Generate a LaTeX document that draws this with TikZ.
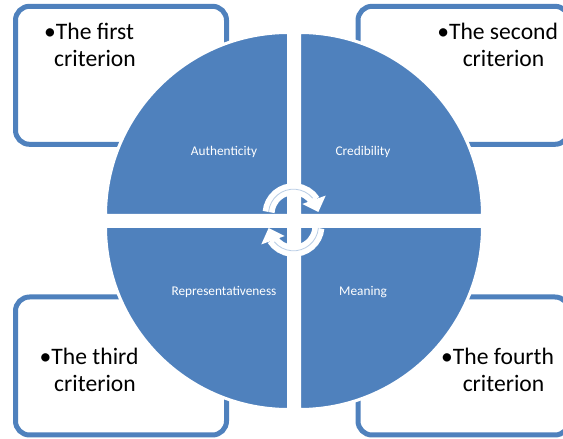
\documentclass[tikz,border=0pt]{standalone}
\usepackage{fontspec}
\setmainfont{Carlito}
\usepackage{tikz}
\usetikzlibrary{arrows.meta, bending}

\begin{document}
\begin{tikzpicture}[
        x=1pt, y=1pt,
        box node/.style={draw=boxblue, line width=5pt, rounded corners=14pt, fill=white, minimum width=211pt, minimum height=138pt, inner sep=0pt},
        crit node/.style={align=center, font=\fontsize{23.6}{26.5}\selectfont, text=black, inner sep=0pt},
        label node/.style={text=white, font=\fontsize{13.3}{16}\selectfont, inner sep=0pt},
        quad/.style={draw=white, line width=3pt, fill=boxblue},
        turn/.style={draw=white, line width=12pt, -{Triangle[width=24pt,length=13pt]}},
        turn line/.style={draw=turnblue, line width=.8pt},
    ]
    \definecolor{boxblue}{HTML}{4F81BD}
    \definecolor{turnblue}{HTML}{B9CDE5}

    \clip (0,0) rectangle (563,439);

    \node[box node] (boxA) at (121,363.7) {};
    \node[box node] (boxB) at (463.5,363.7) {};
    \node[box node] (boxC) at (121,73) {};
    \node[box node] (boxD) at (463.5,73) {};

    \draw[quad] (288.5,223.5) -- ++(-183pt,0) arc[start angle=180, end angle=90, radius=183pt] -- cycle;
    \draw[quad] (299.5,223.5) -- ++(0,183pt) arc[start angle=90, end angle=0, radius=183pt] -- cycle;
    \draw[quad] (288.5,212.5) -- ++(0,-183pt) arc[start angle=270, end angle=180, radius=183pt] -- cycle;
    \draw[quad] (299.5,212.5) -- ++(183pt,0) arc[start angle=0, end angle=-90, radius=183pt] -- cycle;

    \node[crit node] (critA) at (95,394) {\llap{•}The first\\criterion};
    \node[crit node] (critB) at (503.5,394) {\llap{•}The second\\criterion};
    \node[crit node] (critC) at (95,69) {\llap{•}The third\\criterion};
    \node[crit node] (critD) at (503.5,69) {\llap{•}The fourth\\criterion};

    \node[label node] (authentic) at (224,287) {Authenticity};
    \node[label node] (credible) at (363,287) {Credibility};
    \node[label node] (represent) at (224,147) {Representativeness};
    \node[label node] (meaning) at (363,147) {Meaning};

    \coordinate (topstart) at (268.6,227);
    \coordinate (botstart) at (318.4,211);

    \draw[turn] (topstart) arc[start angle=175, end angle=5, radius=25pt];
    \draw[turn] (botstart) arc[start angle=-5, end angle=-175, radius=25pt];
    \draw[turn line] (topstart) arc[start angle=175, end angle=40, radius=25pt];
    \draw[turn line] (botstart) arc[start angle=-5, end angle=-140, radius=25pt];
\end{tikzpicture}
\end{document}
